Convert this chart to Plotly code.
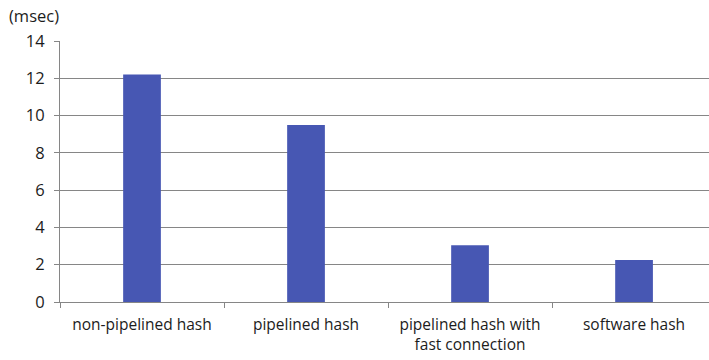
import plotly.graph_objects as go

categories = ["non-pipelined hash", "pipelined hash", "pipelined hash with<br>fast connection", "software hash"]
latency_ms = [12.2, 9.5, 3.05, 2.25]
y_ticks = [0, 2, 4, 6, 8, 10, 12, 14]

font_family = "'Open Sans', sans-serif"
text_color = "#1c1c1c"
grid_color = "#868686"

fig = go.Figure(
    go.Bar(
        x=categories,
        y=latency_ms,
        marker=dict(color="#4757b3", line=dict(width=0)),
        width=0.23,
    )
)

fig.update_layout(
    width=709,
    height=360,
    margin=dict(l=60, r=0, t=41, b=58),
    paper_bgcolor="white",
    plot_bgcolor="white",
    showlegend=False,
    font=dict(family=font_family, size=15.5, color=text_color),
    annotations=[
        dict(
            text="(msec)",
            x=0, y=1, xref="paper", yref="paper",
            xshift=-53, yshift=26,
            xanchor="left", yanchor="middle",
            showarrow=False,
            font=dict(family=font_family, size=16.5, color=text_color),
        )
    ],
)

fig.update_xaxes(
    range=[-0.5, 3.457],
    showline=True,
    linecolor=grid_color,
    linewidth=1,
    ticks="outside",
    tickson="boundaries",
    ticklen=5,
    tickcolor=grid_color,
    showgrid=False,
    tickfont=dict(size=15.5),
    ticklabelstandoff=8,
)

fig.update_yaxes(
    range=[0, 14],
    tickvals=y_ticks,
    showline=True,
    linecolor=grid_color,
    linewidth=1,
    showgrid=True,
    gridcolor=grid_color,
    gridwidth=1,
    ticks="outside",
    ticklen=5,
    tickcolor=grid_color,
    zeroline=False,
    tickfont=dict(size=16.5),
    ticklabelstandoff=6,
)

fig.write_html("out.html")
